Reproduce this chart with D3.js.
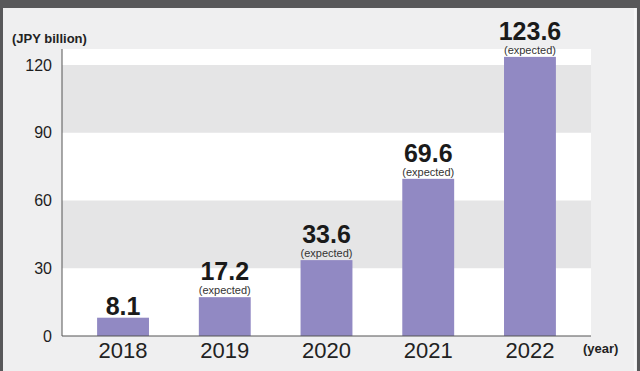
<!DOCTYPE html>
<html>
<head>
<meta charset="utf-8">
<script src="https://cdn.jsdelivr.net/npm/d3@7"></script>
<style>
  html, body { margin: 0; padding: 0; background: #efeff0; }
  svg { display: block; font-family: "Liberation Sans", Arial, sans-serif; }
</style>
</head>
<body>
<svg id="chart" width="640" height="371"></svg>
<script>
// data
const years = ['2018', '2019', '2020', '2021', '2022'];
const values = [8.1, 17.2, 33.6, 69.6, 123.6];
const expected = [false, true, true, true, true];
const yTicks = [0, 30, 60, 90, 120];

const svg = d3.select('#chart');
const W = 640, H = 371;
const plot = {left: 62, right: 591, top: 49, bottom: 336};

// frame: light panel, dark top strip and side edges
svg.append('rect').attr('width', W).attr('height', H).attr('fill', '#efeff0');
svg.append('rect').attr('width', W).attr('height', 8).attr('fill', '#58585a');
svg.append('rect').attr('width', 3).attr('height', H).attr('fill', '#58585a');
svg.append('rect').attr('x', 637).attr('width', 3).attr('height', H).attr('fill', '#58585a');
svg.append('rect').attr('x', 634).attr('width', 2).attr('y', 8).attr('height', H).attr('fill', '#f7f7f8');

const x = d3.scaleBand().domain(years).range([plot.left, plot.right])
  .paddingInner(0.49).paddingOuter(0.345);
const y = d3.scaleLinear().domain([0, 120]).range([plot.bottom, 65]);

// plot background with alternating bands
svg.append('rect')
  .attr('x', plot.left).attr('y', plot.top)
  .attr('width', plot.right - plot.left).attr('height', plot.bottom - plot.top)
  .attr('fill', '#ffffff');
const bands = [[30, 60], [90, 120]];
svg.selectAll('rect.band').data(bands).join('rect')
  .attr('class', 'band')
  .attr('x', plot.left).attr('width', plot.right - plot.left)
  .attr('y', d => y(d[1])).attr('height', d => y(d[0]) - y(d[1]))
  .attr('fill', '#e5e5e6');

// bars
svg.selectAll('rect.bar').data(values).join('rect')
  .attr('class', 'bar')
  .attr('x', (d, i) => x(years[i]))
  .attr('width', x.bandwidth())
  .attr('y', d => y(d))
  .attr('height', d => y(0) - y(d))
  .attr('fill', '#9189c3');

// value labels
svg.selectAll('text.val').data(values).join('text')
  .attr('class', 'val')
  .attr('x', (d, i) => x(years[i]) + x.bandwidth() / 2)
  .attr('y', (d, i) => y(d) - (expected[i] ? 17 : 3))
  .attr('text-anchor', 'middle')
  .attr('font-size', 25).attr('font-weight', 'bold')
  .attr('fill', '#1a1a1a')
  .text(d => d.toFixed(1));

svg.selectAll('text.exp').data(values.filter((d, i) => expected[i])).join('text')
  .attr('class', 'exp')
  .attr('x', d => x(years[values.indexOf(d)]) + x.bandwidth() / 2)
  .attr('y', d => y(d) - 3)
  .attr('text-anchor', 'middle')
  .attr('font-size', 11)
  .attr('fill', '#333')
  .text('(expected)');

// axes
const yAxis = svg.append('g')
  .attr('transform', `translate(${plot.left},0)`)
  .call(d3.axisLeft(y).tickValues(yTicks).tickSize(0).tickPadding(10));
yAxis.select('.domain').remove();
yAxis.selectAll('text').attr('font-size', 16).attr('fill', '#1e1e1e')
  .attr('font-family', '"Liberation Sans", Arial, sans-serif');

const xAxis = svg.append('g')
  .attr('transform', `translate(0,${plot.bottom})`)
  .call(d3.axisBottom(x).tickSize(0).tickPadding(6));
xAxis.select('.domain').remove();
xAxis.selectAll('text').attr('font-size', 22).attr('fill', '#222')
  .attr('font-family', '"Liberation Sans", Arial, sans-serif');

svg.append('line')
  .attr('x1', plot.left).attr('x2', plot.left)
  .attr('y1', plot.top).attr('y2', plot.bottom)
  .attr('stroke', '#555').attr('stroke-width', 1);
svg.append('line')
  .attr('x1', plot.left).attr('x2', plot.right)
  .attr('y1', plot.bottom).attr('y2', plot.bottom)
  .attr('stroke', '#555').attr('stroke-width', 1.2);

// unit labels
svg.append('text').attr('x', 12).attr('y', 43)
  .attr('font-size', 13).attr('font-weight', 'bold').attr('fill', '#222')
  .text('(JPY billion)');
svg.append('text').attr('x', 583).attr('y', 353)
  .attr('font-size', 13).attr('font-weight', 'bold').attr('fill', '#222')
  .text('(year)');
</script>
</body>
</html>
